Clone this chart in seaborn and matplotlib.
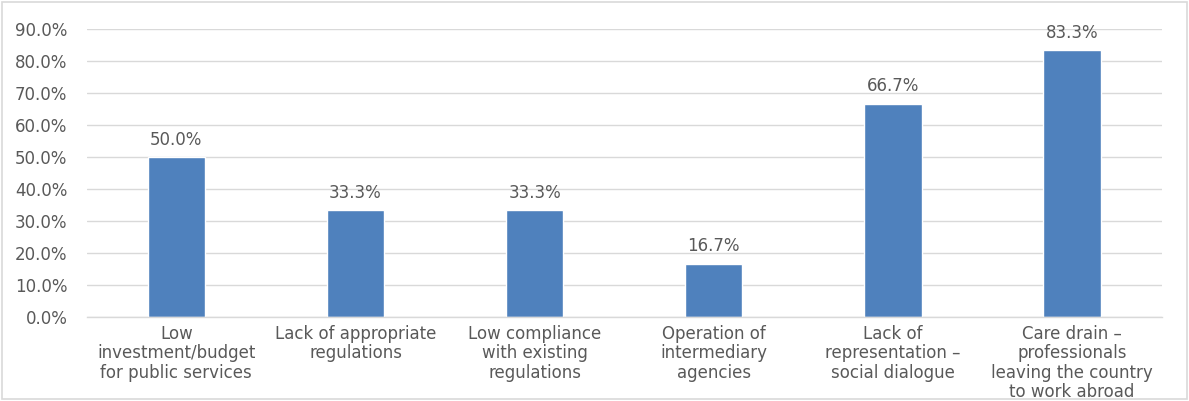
import matplotlib
matplotlib.use("Agg")
import matplotlib.pyplot as plt
from matplotlib.ticker import PercentFormatter
from matplotlib.patches import Rectangle
import seaborn as sns
import pandas as pd

categories = [
    "Low\ninvestment/budget\nfor public services",
    "Lack of appropriate\nregulations",
    "Low compliance\nwith existing\nregulations",
    "Operation of\nintermediary\nagencies",
    "Lack of\nrepresentation \u2013\nsocial dialogue",
    "Care drain \u2013\nprofessionals\nleaving the country\nto work abroad",
]
shares = [50.0, 33.3, 33.3, 16.7, 66.7, 83.3]
y_ticks = [0, 10, 20, 30, 40, 50, 60, 70, 80, 90]

sns.set_theme(style="white")
plt.rcParams["font.family"] = ["DejaVu Sans"]

text_color = "#595959"
fs = 12
df = pd.DataFrame({"category": categories, "share": shares})

fig = plt.figure(figsize=(11.89, 4.01), dpi=100)
ax = fig.add_axes([0.073, 0.2095, 0.904, 0.7182])

sns.barplot(data=df, x="category", y="share", color="#4F81BD",
            width=0.32, saturation=1, ax=ax)

ax.set_ylim(0, 90)
ax.set_yticks(y_ticks)
ax.yaxis.set_major_formatter(PercentFormatter(decimals=1))
ax.grid(axis="y", color="#D9D9D9", linewidth=1)
ax.set_axisbelow(True)
for side in ["top", "right", "left"]:
    ax.spines[side].set_visible(False)
ax.spines["bottom"].set_color("#D9D9D9")
ax.spines["bottom"].set_linewidth(1)
ax.set_xlabel("")
ax.set_ylabel("")
ax.tick_params(axis="y", length=0, pad=14, labelsize=fs, labelcolor=text_color)
ax.tick_params(axis="x", length=0, pad=6, labelsize=fs, labelcolor=text_color)
for lbl in ax.get_xticklabels():
    lbl.set_linespacing(1.08)

for container in ax.containers:
    ax.bar_label(container, labels=[f"{v:.1f}%" for v in shares],
                 padding=6, fontsize=fs, color=text_color)

fig.patches.append(Rectangle((0.002, 0.004), 0.996, 0.99, transform=fig.transFigure,
                             fill=False, edgecolor="#D9D9D9", linewidth=1.2))

fig.savefig("out.png", dpi=100)
